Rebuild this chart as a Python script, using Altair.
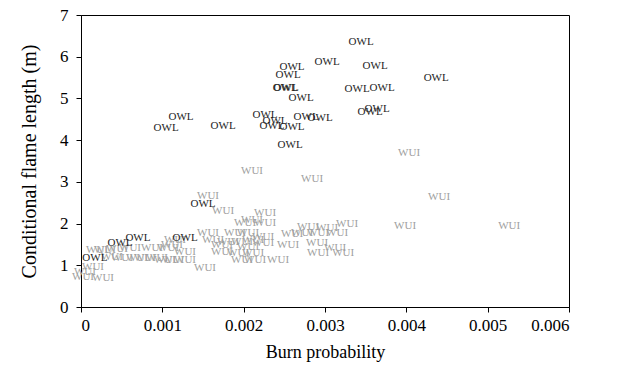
import altair as alt
import pandas as pd

owl_x = [3.444, 3.026, 2.595, 3.616, 2.546, 4.367, 2.522, 2.510, 3.395, 3.702,
         2.706, 1.230, 1.046, 1.747, 2.263, 2.386, 2.349, 2.595, 2.768, 2.940,
         3.555, 3.641, 2.571, 1.500, 0.480, 0.700, 1.280, 0.170]
owl_y = [6.35, 5.88, 5.76, 5.78, 5.56, 5.49, 5.25, 5.26, 5.23, 5.25,
         5.01, 4.56, 4.29, 4.34, 4.60, 4.46, 4.34, 4.32, 4.56, 4.53,
         4.68, 4.75, 3.88, 2.47, 1.53, 1.65, 1.65, 1.18]

wui_x = [4.034, 2.841, 4.403, 2.103, 1.562, 1.747, 3.272, 3.985, 5.264, 2.263,
         2.103, 2.263, 2.017, 2.792, 3.026, 2.595, 2.718, 2.915, 3.149, 2.239,
         2.239, 2.546, 2.903, 3.124, 2.915, 3.223, 2.423, 1.562, 1.894, 2.054,
         1.156, 1.624, 1.808, 1.980, 2.116, 1.119, 1.734, 2.054, 1.279, 1.734,
         1.931, 2.116, 1.132, 1.279, 1.980, 2.140, 1.525, 0.197, 0.295, 0.443,
         0.603, 0.873, 1.070, 0.381, 0.504, 0.689, 0.787, 0.935, 1.033, 0.148,
         0.049, 0.025, 0.271]
wui_y = [3.69, 3.07, 2.64, 3.26, 2.66, 2.30, 1.99, 1.94, 1.94, 2.25,
         2.09, 2.01, 2.01, 1.92, 1.89, 1.75, 1.77, 1.77, 1.77, 1.68,
         1.53, 1.49, 1.53, 1.41, 1.29, 1.29, 1.13, 1.77, 1.77, 1.77,
         1.61, 1.61, 1.56, 1.56, 1.61, 1.49, 1.49, 1.44, 1.32, 1.32,
         1.29, 1.29, 1.13, 1.13, 1.13, 1.13, 0.94, 1.37, 1.37, 1.39,
         1.41, 1.41, 1.41, 1.20, 1.18, 1.18, 1.18, 1.18, 1.13, 0.96,
         0.84, 0.72, 0.70]

x_ticks = [0, 0.001, 0.002, 0.003, 0.004, 0.005, 0.006]
y_ticks = [0, 1, 2, 3, 4, 5, 6, 7]

rows = []
for x, y in zip(wui_x, wui_y):
    rows.append({"bp": x / 1000, "fl": y, "lab": "WUI"})
for x, y in zip(owl_x, owl_y):
    rows.append({"bp": x / 1000, "fl": y, "lab": "OWL"})
df = pd.DataFrame(rows)

FONT = "Liberation Serif"

chart = alt.Chart(df).mark_text(
    font=FONT, fontSize=11, align="center", baseline="middle"
).encode(
    x=alt.X("bp:Q", scale=alt.Scale(domain=[0, 0.006], nice=False, zero=False),
            axis=alt.Axis(title="Burn probability", values=x_ticks, format=".3~f",
                          grid=False, tickSize=5, labelFontSize=17, titleFontSize=18,
                          labelPadding=5, titlePadding=10, domainColor="black",
                          tickColor="black", labelColor="black", titleColor="black",
                          labelFont=FONT, titleFont=FONT, titleFontWeight="normal")),
    y=alt.Y("fl:Q", scale=alt.Scale(domain=[0, 7], nice=False),
            axis=alt.Axis(title="Conditional flame length (m)", values=y_ticks,
                          grid=False, tickSize=5, labelFontSize=17, titleFontSize=20,
                          labelPadding=8, titlePadding=20, domainColor="black",
                          tickColor="black", labelColor="black", titleColor="black",
                          labelFont=FONT, titleFont=FONT, titleFontWeight="normal")),
    text="lab:N",
    color=alt.Color("lab:N", scale=alt.Scale(domain=["OWL", "WUI"], range=["#1e1e1e", "#a0a0a0"]),
                    legend=None),
).properties(
    width=488, height=292,
    autosize=alt.AutoSizeParams(type="none"),
    padding={"left": 73, "top": 7, "right": 63, "bottom": 62},
).configure_view(stroke="black", strokeWidth=1)

chart.save("out.html", embed_options={"renderer": "svg", "actions": False})
